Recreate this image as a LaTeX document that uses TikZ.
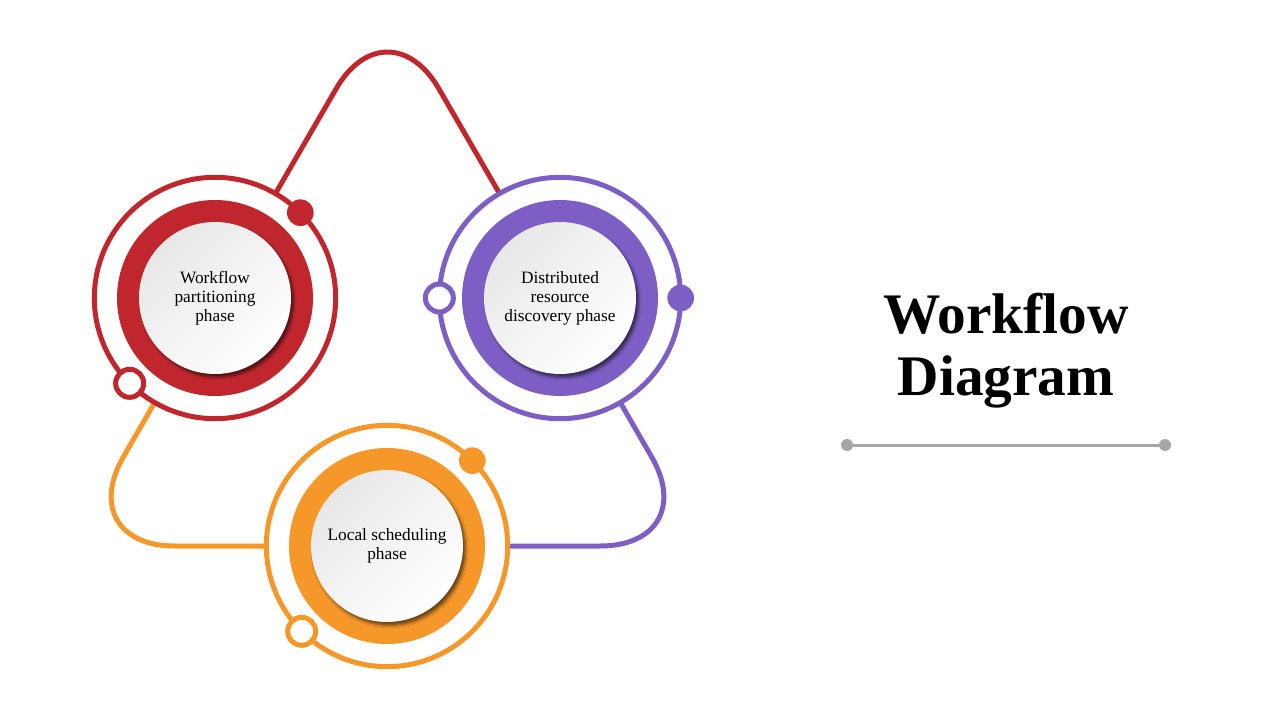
\documentclass[tikz,border=0pt]{standalone}
\usepackage{fontspec}
\setmainfont{Liberation Serif}
\usetikzlibrary{backgrounds, shadows.blur}

\definecolor{phasered}{RGB}{192,39,45}
\definecolor{phasepurple}{RGB}{124,94,196}
\definecolor{phaseorange}{RGB}{245,151,41}
\definecolor{rulegray}{RGB}{166,166,166}

\begin{document}
\begin{tikzpicture}[
      x=0.75pt, y=-0.75pt,
      ring/.style={
        circle,
        draw=#1,
        line width=3.75pt,
        fill=white,
        minimum size=181pt,
        inner sep=0pt,
        outer sep=0pt
      },
      band/.style={circle, fill=#1, minimum size=147pt, inner sep=0pt},
      phase disk/.style={
        circle,
        minimum size=114pt,
        inner sep=0pt,
        top color=black!9,
        bottom color=white,
        shading angle=45,
        blur shadow={shadow xshift=2pt, shadow yshift=-2.5pt,
          shadow blur steps=6, shadow opacity=55},
        align=center,
        font=\fontsize{13}{14.25}\selectfont
      },
      solid dot/.style={circle, fill=#1, minimum size=20pt, inner sep=0pt},
      open dot/.style={circle, draw=#1, line width=3.75pt, fill=white,
        minimum size=21pt, inner sep=0pt},
      link/.style={draw=#1, line width=3.75pt, rounded corners=77pt}
    ]
    \useasboundingbox (0,0) rectangle (1280,720);

    % corners of the rounded triangle
    \coordinate (apex) at (387.5,0);
    \coordinate (corner left) at (72,546);
    \coordinate (corner right) at (703,546);

    % workflow partitioning
    \node[ring=phasered] (partition ring) at (215,298) {};
    \node[band=phasered] (partition band) at (partition ring) {};
    \node[phase disk] (partition) at (partition ring) {Workflow\\partitioning\\phase};
    \node[solid dot=phasered] (partition out) at (partition ring.45) {};
    \node[open dot=phasered] (partition in) at (partition ring.225) {};

    % distributed resource discovery
    \node[ring=phasepurple] (discovery ring) at (560,298) {};
    \node[band=phasepurple] (discovery band) at (discovery ring) {};
    \node[phase disk] (discovery) at (discovery ring) {Distributed\\resource\\discovery phase};
    \node[solid dot=phasepurple] (discovery out) at (discovery ring.0) {};
    \node[open dot=phasepurple] (discovery in) at (discovery ring.180) {};

    % local scheduling
    \node[ring=phaseorange] (scheduling ring) at (387,546) {};
    \node[band=phaseorange] (scheduling band) at (scheduling ring) {};
    \node[phase disk] (scheduling) at (scheduling ring) {Local scheduling\\phase};
    \node[solid dot=phaseorange] (scheduling out) at (scheduling ring.45) {};
    \node[open dot=phaseorange] (scheduling in) at (scheduling ring.225) {};

    \begin{scope}[on background layer]
      \draw[link=phasered] (partition.center) -- (apex) -- (discovery.center);
      \draw[link=phasepurple] (discovery.center) -- (corner right) -- (scheduling.center);
      \draw[link=phaseorange] (scheduling.center) -- (corner left) -- (partition.center);
    \end{scope}

    % title and rule
    \node[font=\fontsize{43}{46.5}\selectfont\bfseries, align=center] (title) at (1006,351) {Workflow\\Diagram};
    \node[circle, fill=rulegray, minimum size=9pt, inner sep=0pt] (rule left) at (847,445) {};
    \node[circle, fill=rulegray, minimum size=9pt, inner sep=0pt] (rule right) at (1165,445) {};
    \draw[rulegray, line width=2.25pt] (rule left) -- (rule right);
  \end{tikzpicture}
\end{document}
